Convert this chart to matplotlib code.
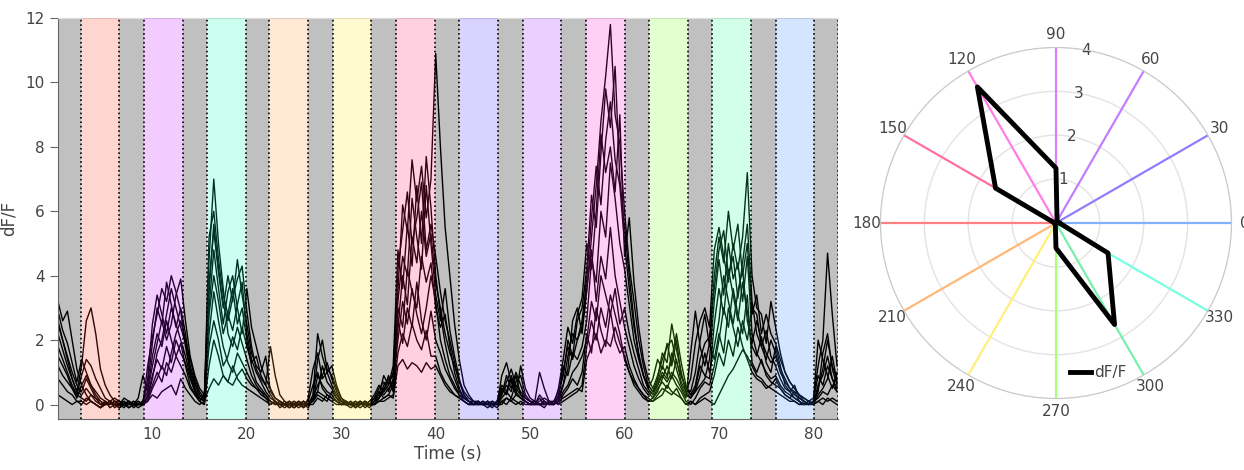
import numpy as np
import matplotlib
matplotlib.use("Agg")
import matplotlib.pyplot as plt

# stimulus epochs (s) and their colours; grey = blank between stimuli
stim_start = [2.4, 9.1, 15.8, 22.4, 29.1, 35.8, 42.5, 49.2, 55.9, 62.6, 69.3, 76.0]
stim_dur = 4.1
t_end = 82.6
stim_colors = ['#ff320f', '#be00ff', '#00ffb4', '#ff9128', '#ffe614', '#ff1464',
               '#4123ff', '#9614ff', '#ff14cd', '#73ff14', '#1eff87', '#237dff']

# dF/F traces, one value every 0.5 s (t = 0 ... 82.5)
dt = 0.5
trials = [
    [3.2, 2.6, 2.9, 2.0, 1.1, 0.6, 0.3, 0.1, 0.0, -0.1,
     0.1, -0.1, 0.0, 0.1, 0.0, -0.1, 0.0, 0.1, 0.0, 1.2,
     2.1, 2.8, 3.6, 3.2, 4.0, 3.5, 2.9, 1.8, 1.0, 0.5,
     0.2, 0.1, 3.5, 5.6, 4.2, 3.1, 2.6, 3.3, 3.9, 4.3,
     2.9, 1.8, 1.1, 0.8, 0.6, 1.8, 0.9, 0.3, 0.1, 0.0,
     -0.1, 0.0, 0.1, 0.0, 0.3, 2.2, 1.5, 1.0, 1.2, 0.6,
     0.2, 0.0, 0.1, -0.1, 0.0, 0.1, 0.0, 0.0, 0.2, 0.4,
     0.6, 1.0, 3.5, 6.2, 5.4, 7.6, 6.3, 7.4, 5.8, 7.0,
     10.9, 8.0, 5.5, 4.0, 2.5, 1.4, 0.6, 0.3, 0.1, 0.1,
     0.0, 0.1, 0.0, 0.0, 0.9, 1.3, 0.7, 0.3, 1.2, 0.5,
     0.2, 0.1, 0.0, 0.1, 0.0, 0.0, 0.1, 0.6, 1.5, 2.2,
     2.0, 2.4, 3.5, 5.2, 6.8, 8.8, 10.2, 11.8, 9.0, 8.1,
     6.0, 4.3, 3.2, 2.0, 1.2, 0.6, 0.4, 0.8, 1.6, 1.3,
     2.5, 1.7, 1.0, 0.4, 0.8, 1.9, 2.6, 3.0, 2.4, 4.8,
     5.5, 4.6, 3.8, 5.0, 4.2, 5.2, 7.2, 4.0, 3.0, 2.8,
     1.9, 3.2, 2.4, 1.6, 1.0, 0.7, 0.5, 0.3, 0.2, 0.1,
     0.2, 1.2, 2.0, 4.7, 2.8, 1.2],
    [2.5, 2.0, 1.4, 0.8, 0.4, 1.2, 2.6, 3.0, 2.2, 1.1,
     0.6, 0.3, 0.1, 0.0, -0.1, 0.1, 0.0, 0.2, 0.9, 0.4,
     1.5, 2.2, 1.8, 2.6, 2.0, 1.5, 1.9, 1.2, 0.6, 0.3,
     0.1, 0.0, 2.8, 4.0, 3.2, 2.2, 2.8, 3.6, 2.5, 3.0,
     2.0, 1.2, 0.7, 0.5, 0.3, 0.1, 0.0, 0.0, -0.1, 0.0,
     0.1, 0.0, -0.1, 0.2, 1.1, 1.6, 0.8, 1.0, 0.6, 0.3,
     0.1, 0.0, -0.1, 0.0, 0.1, 0.0, 0.1, 0.3, 0.6, 0.4,
     0.9, 0.5, 2.4, 4.0, 3.1, 5.2, 4.4, 6.0, 4.6, 5.3,
     3.8, 3.0, 2.2, 1.6, 1.2, 0.7, 0.4, 0.2, 0.1, 0.0,
     0.1, 0.0, 0.0, 0.1, 0.5, 0.3, 0.8, 0.4, 0.2, 0.1,
     0.0, 0.1, 0.0, -0.1, 0.1, 0.0, 0.3, 1.2, 0.9, 1.6,
     1.4, 1.8, 2.6, 4.5, 3.8, 6.0, 5.2, 7.5, 6.4, 5.0,
     4.2, 3.1, 2.0, 1.4, 0.9, 0.5, 0.3, 0.6, 1.0, 0.8,
     1.6, 1.1, 0.6, 0.3, 0.2, 0.5, 1.2, 0.9, 0.8, 2.5,
     3.6, 2.8, 4.2, 3.4, 2.6, 3.8, 2.9, 1.8, 1.5, 2.1,
     1.3, 1.0, 1.8, 1.2, 0.6, 0.4, 0.2, 0.1, 0.0, 0.1,
     0.0, 0.6, 0.9, 1.5, 0.8, 0.5],
    [1.8, 1.4, 1.0, 0.6, 0.3, 0.9, 1.4, 1.2, 0.8, 0.5,
     0.2, 0.1, 0.0, -0.1, 0.0, 0.1, 0.0, 0.0, 0.1, 0.6,
     1.9, 3.0, 2.5, 3.8, 3.1, 2.4, 3.0, 2.2, 1.2, 0.7,
     0.3, 0.2, 4.5, 7.0, 5.0, 3.6, 2.2, 1.8, 2.4, 1.9,
     1.4, 0.9, 0.6, 0.4, 0.2, 0.0, 0.1, -0.1, 0.0, 0.1,
     0.0, -0.1, 0.0, 0.1, 0.6, 1.0, 0.5, 0.3, 0.2, 0.1,
     0.0, 0.1, 0.0, 0.0, -0.1, 0.0, 0.0, 0.1, 0.3, 0.9,
     0.6, 1.2, 4.8, 3.6, 5.6, 4.3, 6.8, 5.0, 7.7, 6.1,
     4.0, 2.8, 1.9, 1.2, 0.8, 0.4, 0.2, 0.1, 0.0, 0.1,
     0.0, -0.1, 0.0, 0.0, 0.3, 0.6, 0.4, 0.9, 0.3, 0.2,
     0.1, 0.0, 0.3, 0.1, 0.0, 0.1, 0.4, 0.9, 2.0, 1.5,
     2.6, 3.0, 4.2, 6.5, 5.5, 7.8, 9.8, 8.6, 10.5, 7.0,
     5.5, 4.0, 2.6, 1.5, 0.9, 0.5, 0.8, 1.4, 1.1, 1.9,
     1.2, 2.0, 0.9, 0.5, 0.3, 0.4, 0.6, 0.8, 1.4, 3.2,
     4.5, 3.4, 5.0, 3.9, 4.4, 3.2, 4.6, 2.2, 1.6, 1.3,
     1.0, 0.8, 0.9, 0.6, 0.4, 0.3, 0.2, 0.1, 0.0, 0.0,
     0.1, 0.4, 1.6, 2.2, 1.1, 0.6],
    [0.3, 0.2, 0.1, 0.0, 0.1, 0.0, 0.2, 0.1, 0.0, -0.1,
     0.0, 0.1, -0.1, 0.0, 0.0, 0.1, -0.1, 0.0, 0.0, 0.1,
     0.3, 0.2, 0.4, 0.5, 0.6, 0.3, 0.8, 0.5, 0.3, 0.1,
     0.0, 0.1, 0.5, 0.8, 0.6, 0.9, 0.7, 0.6, 0.9, 1.1,
     0.8, 0.6, 0.5, 0.4, 0.3, 0.1, 0.0, 0.1, 0.0, -0.1,
     0.0, 0.1, -0.1, 0.0, 0.2, 0.4, 0.3, 0.2, 0.1, 0.0,
     0.0, 0.1, 0.0, -0.1, 0.0, 0.1, 0.0, 0.0, 0.1, 0.2,
     0.3, 0.2, 1.2, 1.4, 1.1, 1.3, 1.2, 1.0, 1.3, 1.1,
     1.2, 0.9, 0.6, 0.4, 0.3, 0.2, 0.1, 0.0, 0.0, 0.1,
     0.0, 0.1, 0.0, -0.1, 0.1, 0.2, 0.1, 0.0, 0.1, 0.0,
     0.0, 0.1, 0.0, 0.0, 0.1, 0.0, 0.1, 0.2, 0.3, 0.4,
     0.5, 0.4, 1.4, 1.8, 2.2, 1.6, 2.0, 1.8, 2.4, 1.9,
     1.5, 1.0, 0.7, 0.5, 0.3, 0.2, 0.1, 0.3, 0.5, 0.4,
     0.3, 0.5, 0.2, 0.0, 0.1, 0.0, 0.1, 0.2, 0.1, 0.0,
     0.3, 0.6, 0.9, 1.1, 1.4, 1.7, 1.5, 1.2, 0.9, 0.8,
     0.6, 0.5, 0.4, 0.3, 0.2, 0.1, 0.1, 0.0, 0.1, 0.0,
     0.0, 0.1, 0.0, 0.2, 0.1, 0.0],
    [2.9, 2.3, 1.9, 1.3, 0.7, 1.4, 1.0, 0.6, 0.4, 0.2,
     0.1, 0.0, 0.1, 0.0, 0.1, -0.1, 0.0, 0.1, 0.0, 0.3,
     0.9, 1.4, 1.1, 1.8, 1.3, 2.0, 1.6, 1.3, 0.8, 0.4,
     0.2, 0.1, 3.8, 5.4, 4.1, 3.0, 4.0, 3.2, 4.5, 3.4,
     2.5, 1.6, 1.2, 1.0, 1.5, 0.4, 0.2, 0.1, 0.0, 0.1,
     0.0, 0.1, 0.0, -0.1, 0.2, 0.6, 0.9, 1.3, 0.8, 0.4,
     0.1, 0.0, 0.0, 0.1, 0.0, 0.0, 0.1, 0.2, 0.5, 0.7,
     0.4, 0.8, 3.0, 2.4, 4.2, 3.5, 3.0, 4.6, 3.8, 4.4,
     3.0, 2.4, 2.8, 1.8, 1.0, 0.5, 0.2, 0.1, 0.0, 0.0,
     0.1, 0.0, 0.1, 0.0, 0.2, 0.4, 0.9, 0.5, 0.3, 0.1,
     0.0, 0.1, 1.0, 0.5, 0.1, 0.0, 0.2, 0.6, 1.1, 2.6,
     3.0, 2.2, 3.6, 4.8, 3.2, 4.6, 3.9, 5.5, 4.0, 3.2,
     2.4, 1.8, 1.2, 0.8, 0.5, 0.3, 0.4, 0.6, 0.9, 0.7,
     1.0, 0.8, 0.5, 0.2, 1.6, 2.9, 1.8, 1.2, 1.9, 1.4,
     2.2, 1.6, 3.0, 2.4, 1.8, 2.6, 2.0, 3.0, 2.8, 1.8,
     2.3, 1.5, 1.2, 0.8, 0.5, 0.4, 0.6, 0.2, 0.1, 0.0,
     0.1, 2.0, 1.4, 0.9, 0.5, 1.0],
    [2.2, 1.7, 1.2, 0.8, 0.4, 0.3, 0.5, 0.3, 0.1, 0.0,
     0.1, 0.0, 0.1, 0.1, 0.0, 0.1, 0.0, 0.0, 0.0, 0.1,
     0.5, 0.8, 1.2, 0.9, 1.6, 2.2, 2.6, 2.0, 1.4, 0.8,
     0.4, 0.2, 1.8, 2.6, 2.0, 1.2, 1.5, 2.1, 1.7, 2.4,
     1.8, 1.3, 1.5, 0.9, 0.6, 0.3, 0.1, 0.0, 0.1, 0.0,
     -0.1, 0.0, 0.1, 0.0, 0.1, 0.3, 0.2, 0.1, 0.4, 0.2,
     0.0, 0.1, 0.0, 0.0, 0.1, -0.1, 0.0, 0.2, 0.4, 0.3,
     0.5, 0.7, 2.0, 3.2, 2.5, 3.6, 2.8, 2.2, 3.0, 4.0,
     3.2, 2.0, 1.4, 0.9, 0.6, 0.3, 0.2, 0.1, 0.0, 0.1,
     0.0, 0.0, 0.1, 0.0, 0.0, 0.2, 0.1, 0.3, 0.2, 0.1,
     0.0, 0.0, 0.1, 0.2, 0.1, 0.0, 0.1, 0.4, 0.6, 1.0,
     1.2, 1.5, 2.0, 3.2, 2.6, 4.0, 3.4, 2.8, 3.6, 2.5,
     3.0, 2.2, 1.6, 1.1, 0.6, 0.4, 0.2, 0.5, 0.7, 0.5,
     0.9, 0.6, 0.4, 0.1, 0.0, 0.2, 0.5, 0.7, 0.6, 1.2,
     2.0, 3.0, 2.4, 3.6, 2.8, 2.2, 3.4, 1.3, 1.0, 1.4,
     0.9, 0.7, 0.6, 0.5, 0.3, 0.2, 0.4, 0.1, 0.0, 0.1,
     0.0, 0.3, 0.5, 0.8, 1.5, 0.7],
    [1.2, 0.9, 0.7, 0.5, 0.2, 0.6, 0.9, 0.6, 0.3, 0.1,
     0.0, 0.1, 0.0, -0.1, 0.0, 0.0, 0.1, 0.0, 0.1, 0.8,
     2.5, 3.4, 2.8, 2.2, 3.0, 2.5, 2.0, 1.5, 0.9, 0.4,
     0.1, 0.3, 2.2, 3.5, 2.6, 1.8, 1.3, 1.0, 1.6, 1.3,
     1.0, 0.7, 0.5, 0.3, 0.2, 0.1, 0.0, 0.1, 0.0, 0.0,
     0.1, 0.0, 0.0, 0.1, 0.1, 0.9, 0.6, 0.4, 0.3, 0.1,
     0.0, 0.0, 0.1, 0.0, 0.1, 0.0, -0.1, 0.1, 0.2, 0.6,
     0.8, 0.4, 2.6, 1.9, 3.0, 2.4, 3.8, 2.6, 2.0, 2.9,
     2.0, 1.6, 1.1, 0.8, 0.5, 0.3, 0.1, 0.0, 0.1, 0.0,
     0.1, 0.0, -0.1, 0.1, 0.6, 0.4, 0.2, 0.7, 0.9, 0.3,
     0.1, 0.1, 0.0, 0.0, 0.1, 0.1, 0.0, 0.3, 0.5, 0.8,
     0.6, 1.0, 2.2, 1.6, 3.0, 2.3, 1.8, 2.9, 2.0, 1.6,
     1.8, 1.2, 0.8, 0.5, 0.3, 0.1, 0.2, 0.4, 0.8, 1.2,
     0.8, 1.4, 0.7, 0.4, 0.2, 0.4, 0.9, 1.6, 1.0, 1.8,
     2.6, 4.0, 3.2, 2.5, 3.5, 4.2, 2.6, 1.9, 2.6, 2.0,
     1.6, 1.3, 1.5, 1.0, 0.7, 0.5, 0.4, 0.3, 0.1, 0.0,
     0.1, 0.2, 0.4, 0.3, 0.6, 0.4],
    [0.8, 0.6, 0.4, 0.3, 0.1, 0.1, 0.0, 0.1, 0.0, -0.1,
     0.0, 0.1, 0.0, 0.0, 0.1, 0.0, 0.0, -0.1, 0.0, 0.2,
     0.6, 1.0, 0.7, 1.3, 1.0, 1.5, 1.2, 0.9, 0.5, 0.3,
     0.1, 0.0, 1.2, 2.0, 1.5, 0.9, 0.7, 1.2, 0.8, 0.6,
     0.5, 0.4, 0.3, 0.2, 0.1, 0.0, 0.1, 0.0, 0.0, 0.1,
     0.0, 0.0, 0.1, 0.0, 0.0, 0.2, 0.1, 0.3, 0.2, 0.1,
     0.0, 0.0, 0.0, 0.1, 0.0, 0.1, 0.0, 0.0, 0.1, 0.1,
     0.2, 0.3, 1.6, 2.2, 1.8, 2.5, 2.0, 1.7, 2.3, 1.5,
     1.5, 1.0, 0.7, 0.5, 0.3, 0.2, 0.1, 0.0, 0.0, 0.0,
     0.0, 0.1, 0.0, 0.0, 0.1, 0.0, 0.2, 0.1, 0.0, 0.1,
     0.0, 0.0, 0.0, 0.1, 0.0, 0.1, 0.0, 0.1, 0.2, 0.3,
     0.4, 0.6, 1.8, 2.6, 2.0, 3.0, 2.4, 3.4, 2.8, 2.2,
     1.4, 1.0, 0.6, 0.4, 0.2, 0.1, 0.1, 0.2, 0.3, 0.6,
     0.4, 0.3, 0.2, 0.0, 0.1, 0.0, 0.2, 0.3, 0.4, 0.9,
     1.6, 1.2, 2.0, 1.5, 2.4, 1.8, 1.4, 1.0, 0.8, 0.7,
     0.5, 0.6, 0.8, 0.5, 0.3, 0.2, 0.1, 0.0, 0.0, 0.1,
     0.0, 0.1, 0.2, 0.1, 0.2, 0.1],
    [1.5, 1.2, 0.9, 0.5, 0.3, 0.2, 0.1, 0.3, 0.2, 0.0,
     0.0, 0.0, 0.1, 0.0, 0.2, 0.1, 0.0, 0.0, 0.1, 0.4,
     1.2, 1.9, 2.6, 2.0, 2.5, 3.4, 3.9, 2.6, 1.5, 0.9,
     0.5, 0.3, 3.0, 4.8, 3.6, 2.5, 3.5, 4.0, 3.0, 2.2,
     3.6, 2.4, 1.8, 1.2, 0.8, 0.5, 0.2, 0.1, 0.0, 0.0,
     0.0, 0.0, 0.1, 0.0, 0.1, 0.4, 1.2, 0.7, 0.5, 0.2,
     0.1, 0.0, 0.0, 0.0, 0.1, 0.0, 0.0, 0.1, 0.4, 0.2,
     0.3, 0.6, 4.2, 5.4, 6.6, 5.0, 5.8, 6.9, 4.8, 5.6,
     4.6, 3.5, 2.6, 2.0, 1.3, 0.7, 0.3, 0.1, 0.1, 0.0,
     0.0, 0.1, 0.0, 0.1, 0.3, 0.9, 0.5, 1.0, 0.6, 0.2,
     0.1, 0.0, 0.0, 0.1, 0.0, 0.0, 0.2, 1.0, 1.8, 1.4,
     2.0, 2.6, 3.9, 5.8, 7.4, 6.2, 8.2, 9.4, 7.6, 6.8,
     5.0, 3.6, 2.4, 1.6, 0.9, 0.6, 0.4, 0.7, 1.2, 0.9,
     1.4, 2.2, 1.3, 0.6, 0.3, 0.6, 1.4, 1.9, 2.1, 3.6,
     4.8, 5.4, 4.0, 4.6, 3.3, 4.4, 5.6, 3.2, 2.2, 1.8,
     1.4, 2.0, 1.6, 1.1, 0.8, 0.5, 0.3, 0.2, 0.1, 0.0,
     0.1, 0.9, 0.6, 1.2, 0.8, 0.4],
    [2.6, 2.0, 1.5, 1.0, 0.6, 0.4, 0.8, 0.5, 0.2, 0.1,
     0.0, 0.1, 0.2, 0.1, 0.0, 0.0, 0.1, 0.0, 0.0, 0.2,
     0.8, 1.6, 2.0, 2.8, 3.6, 3.0, 2.4, 1.9, 1.1, 0.6,
     0.3, 0.1, 5.2, 6.0, 4.5, 3.4, 2.8, 2.3, 3.1, 3.8,
     2.2, 1.4, 1.0, 0.7, 0.4, 0.2, 0.1, 0.0, 0.0, -0.1,
     0.0, 0.1, 0.0, 0.0, 0.2, 1.4, 2.0, 1.1, 0.9, 0.5,
     0.2, 0.1, 0.0, 0.0, 0.0, 0.1, 0.0, 0.0, 0.2, 0.5,
     0.7, 0.9, 3.2, 4.6, 4.0, 6.4, 5.2, 4.2, 6.8, 5.0,
     3.4, 2.6, 3.6, 2.3, 1.5, 0.8, 0.3, 0.1, 0.0, 0.1,
     0.0, 0.0, 0.1, 0.0, 0.4, 0.7, 1.1, 0.6, 0.4, 0.2,
     0.1, 0.0, 0.2, 0.0, 0.1, 0.0, 0.5, 1.4, 2.4, 1.9,
     2.8, 3.3, 5.0, 4.2, 6.0, 8.4, 7.2, 8.0, 6.6, 9.0,
     4.6, 5.8, 3.8, 2.4, 1.4, 0.8, 0.5, 0.9, 1.4, 1.8,
     2.0, 1.3, 0.9, 0.5, 0.4, 1.0, 2.0, 2.8, 1.8, 4.0,
     5.2, 4.4, 6.0, 4.8, 5.6, 4.0, 5.0, 2.8, 3.4, 2.2,
     2.8, 2.2, 1.9, 1.4, 1.0, 0.7, 0.5, 0.3, 0.2, 0.1,
     0.0, 0.5, 1.1, 2.0, 1.2, 0.8],
]

# polar tuning: mean dF/F per direction
directions = [0, 30, 60, 90, 120, 150, 180, 210, 240, 270, 300, 330]
dff_mean = [0.08, 0.05, 0.05, 1.25, 3.58, 1.59, 0.03, 0.03, 0.03, 0.57, 2.67, 1.37]
dir_colors = ['#80b2ff', '#8f7dff', '#c47dff', '#e07dff', '#ff7de6', '#ff6fa2',
              '#ff8080', '#ffb878', '#fff07a', '#a8ff7a', '#78f0aa', '#78ffe2']

fig = plt.figure(figsize=(12.44, 4.70), dpi=100)
txt = '#444444'

# ---- left: traces over stimulus epochs
ax = fig.add_axes([0.0466, 0.1085, 0.627, 0.853])
ax.set_facecolor('white')
edges = [0.0]
for s in stim_start:
    edges += [s, s + stim_dur]
edges.append(t_end)
# grey blanks under the traces
for k in range(0, len(edges) - 1, 2):
    ax.axvspan(edges[k], edges[k + 1], color='#c0c0c0', lw=0, zorder=0)
t = np.arange(len(trials[0])) * dt
for tr in trials:
    ax.plot(t, tr, color='black', lw=1.0, zorder=2)
# coloured stimulus windows tint the traces
for s, c in zip(stim_start, stim_colors):
    ax.axvspan(s, s + stim_dur, color=c, alpha=0.2, lw=0, zorder=3)
for e in edges[1:]:
    ax.axvline(e, color='black', ls=':', lw=1.2, zorder=4)

ax.set_xlim(0, t_end)
ax.set_ylim(-0.45, 12)
ax.set_xticks([10, 20, 30, 40, 50, 60, 70, 80])
ax.set_yticks([0, 2, 4, 6, 8, 10, 12])
ax.tick_params(axis='x', length=0, labelsize=11, labelcolor=txt, pad=6)
ax.tick_params(axis='y', length=6, color='#666666', labelsize=11, labelcolor=txt)
ax.spines['right'].set_visible(False)
ax.spines['top'].set_color('#dddddd')
ax.spines['left'].set_color('#666666')
ax.spines['bottom'].set_color('#666666')
ax.set_xlabel('Time (s)', fontsize=12, color=txt, labelpad=2)
ax.set_ylabel('dF/F', fontsize=12, color=txt, labelpad=6)

# ---- right: direction tuning polar plot
pax = fig.add_axes([0.7077, 0.152, 0.2823, 0.747], projection='polar')
th = np.deg2rad(directions)
for a, c in zip(th, dir_colors):
    pax.plot([a, a], [0, 4], color=c, lw=1.6, zorder=2)
pth = np.append(th, th[0])
pr = np.append(dff_mean, dff_mean[0])
pax.plot(pth, pr, color='black', lw=3.5, label='dF/F', zorder=3)
pax.set_ylim(0, 4)
pax.set_yticks([1, 2, 3, 4])
pax.set_yticklabels(['1', '2', '3', '4'], fontsize=11, color=txt)
pax.set_rlabel_position(80)
for lbl in pax.get_yticklabels():
    lbl.set_ha('center')
    lbl.set_va('center')
pax.set_xticks(th)
pax.set_xticklabels([str(d) for d in directions], fontsize=11, color=txt)
pax.tick_params(axis='x', pad=-1)
pax.xaxis.grid(False)
pax.yaxis.grid(True, color='#e3e3e3', lw=1)
pax.spines['polar'].set_color('#c8c8c8')
pax.legend(loc='center left', bbox_to_anchor=(0.849, 0.207), bbox_transform=fig.transFigure,
           frameon=False, fontsize=11, handlelength=1.4, handletextpad=0.2,
           labelcolor=txt)

fig.savefig('out.png', dpi=100)
